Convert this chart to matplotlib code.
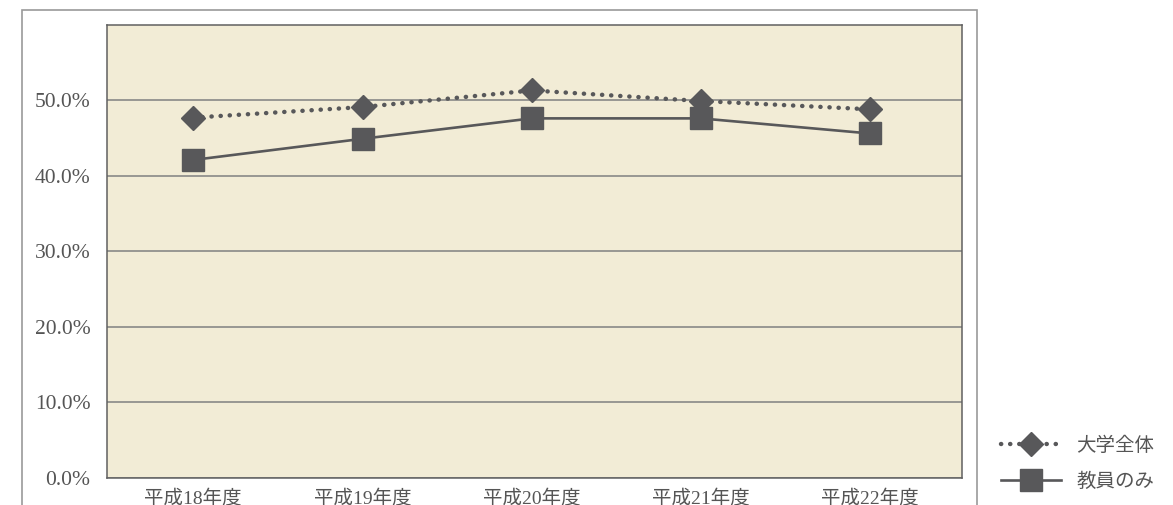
import matplotlib
matplotlib.use("Agg")
import matplotlib.pyplot as plt
from matplotlib.patches import Rectangle
from matplotlib.ticker import FuncFormatter

categories = ["平成18年度", "平成19年度", "平成20年度", "平成21年度", "平成22年度"]
univ_all = [0.477, 0.491, 0.513, 0.499, 0.488]
faculty = [0.421, 0.449, 0.476, 0.476, 0.456]
series_names = ["大学全体", "教員のみ"]
yticks = [0.0, 0.1, 0.2, 0.3, 0.4, 0.5]

fam = ["Liberation Serif", "Noto Sans CJK JP"]
plt.rcParams["font.family"] = fam

W, H = 1173, 505
fig = plt.figure(figsize=(W / 100, H / 100), dpi=100)
fig.patch.set_facecolor("white")

# outer frame
fig.patches.append(Rectangle((22 / W, -0.1), (976.5 - 22) / W, 1.1 - 9.5 / H,
                             transform=fig.transFigure, fill=False,
                             edgecolor="#9a9a9a", linewidth=1.2, zorder=0))

ax = fig.add_axes([107 / W, 1 - 478 / H, (961.5 - 107) / W, (478 - 24.7) / H])
ax.set_facecolor("#F2ECD6")
x = list(range(len(categories)))
dark = "#58585A"
ax.plot(x, univ_all, color=dark, linestyle=(0, (0.05, 2.0)), linewidth=3.2,
        dash_capstyle="round", marker="D", markersize=12.5, markerfacecolor=dark,
        markeredgecolor=dark, label=series_names[0], zorder=3)
ax.plot(x, faculty, color=dark, linestyle="-", linewidth=1.9,
        marker="s", markersize=15.5, markerfacecolor=dark,
        markeredgecolor=dark, label=series_names[1], zorder=3)

ax.set_xlim(-0.51, len(categories) - 0.46)
ax.set_ylim(0, 0.6)
ax.set_yticks(yticks)
ax.yaxis.set_major_formatter(FuncFormatter(lambda v, p: f"{v*100:.1f}%"))
ax.set_xticks(x)
ax.set_xticklabels(categories)
ax.grid(axis="y", color="#808080", linewidth=1.1)
ax.set_axisbelow(True)
ax.tick_params(axis="both", length=0, colors="#555555")
ax.tick_params(axis="x", pad=8, labelsize=14)
ax.tick_params(axis="y", pad=12, labelsize=15.5)
for lab in ax.get_xticklabels() + ax.get_yticklabels():
    lab.set_color("#555555")
for s in ax.spines.values():
    s.set_color("#606060")
    s.set_linewidth(1.1)

fig.legend(loc="upper left", bbox_to_anchor=(993 / W, 1 - 429 / H), frameon=False,
           fontsize=14, handlelength=3.1, handletextpad=0.8, labelspacing=0.9,
           labelcolor="#555555", borderaxespad=0)

fig.savefig("out.png", dpi=100)
